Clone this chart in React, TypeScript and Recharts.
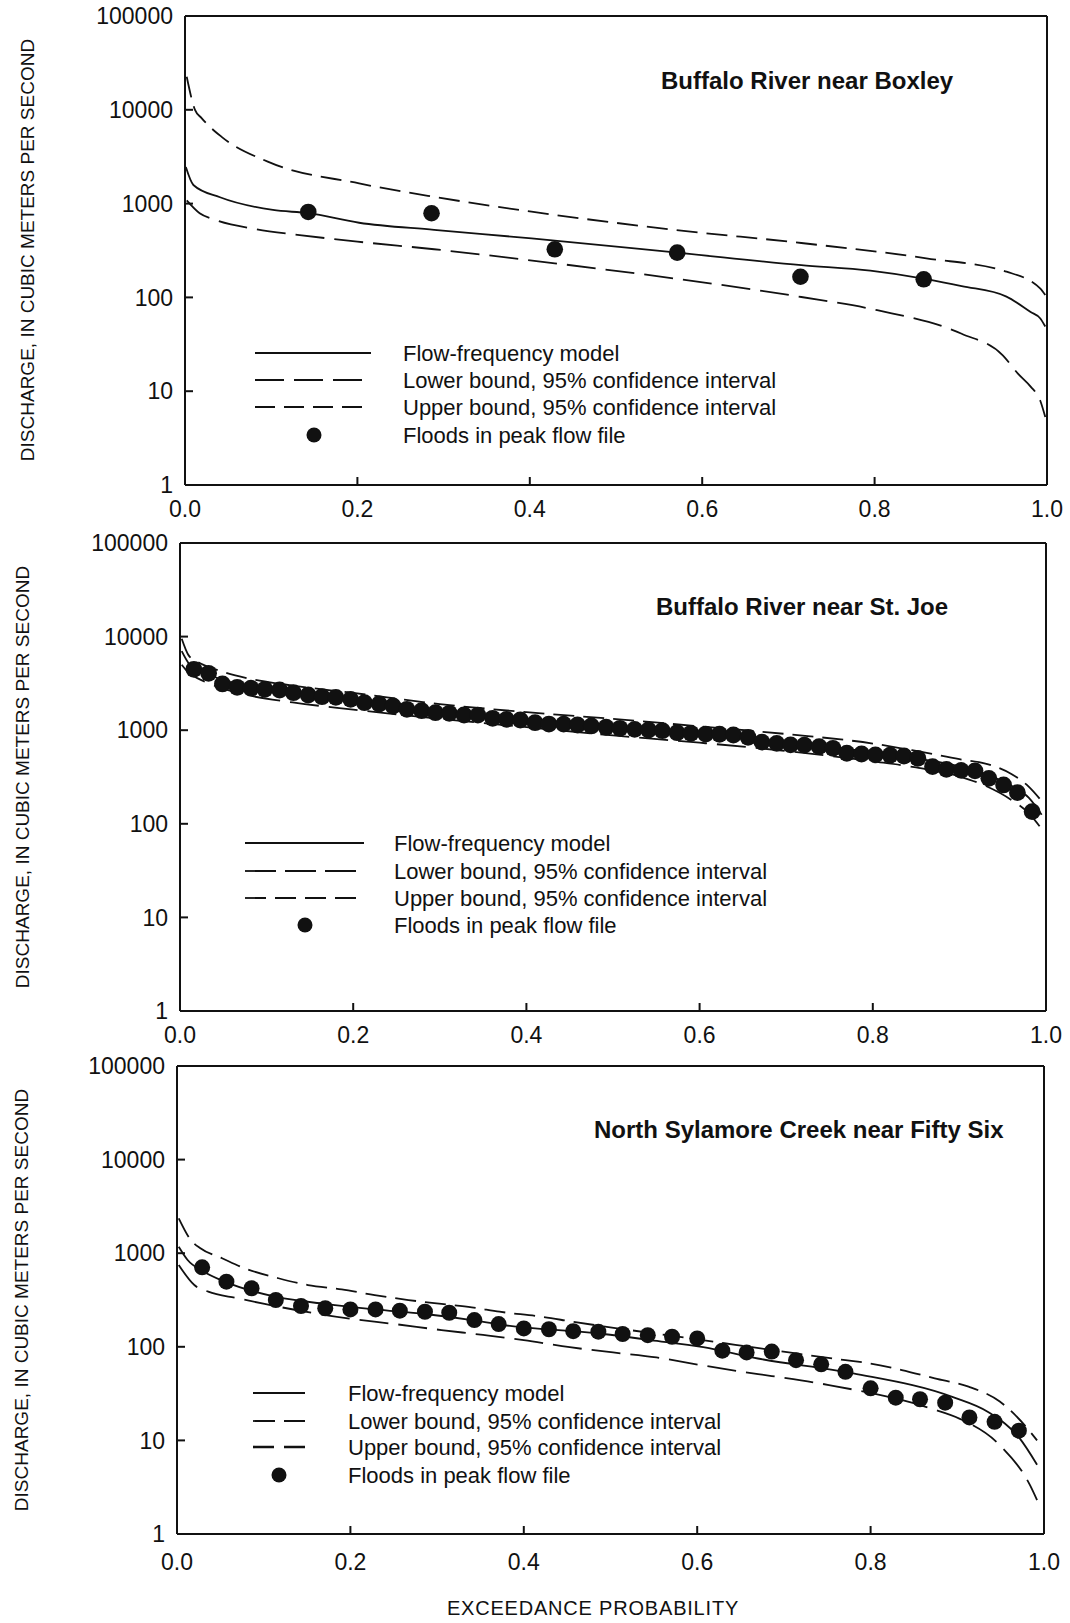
import { ComposedChart, Line, Scatter, XAxis, YAxis } from 'recharts';

const FONT = '"Liberation Sans", Arial, Helvetica, sans-serif';
const INK = '#111';

const X_TICKS = [0, 0.2, 0.4, 0.6, 0.8, 1];
const Y_TICKS = [1, 10, 100, 1000, 10000, 100000];

// Buffalo River near Boxley
const BOX_MODEL_P = [0.001, 0.0097, 0.0406, 0.102, 0.143, 0.202, 0.289, 0.402, 0.574, 0.715, 0.795, 0.86, 0.901, 0.953, 0.981, 0.992, 0.998];
const BOX_MODEL_Q = [2450, 1580, 1168, 855, 790, 625, 525, 426, 298, 221, 193, 157, 132, 102, 70, 60, 49];
const BOX_UPPER_P = [0.002, 0.0116, 0.019, 0.0425, 0.096, 0.202, 0.289, 0.402, 0.568, 0.715, 0.86, 0.953, 0.992, 0.998];
const BOX_UPPER_Q = [22500, 10000, 8200, 5150, 2800, 1640, 1180, 820, 525, 380, 261, 188, 125, 106];
const BOX_LOWER_P = [0.002, 0.017, 0.033, 0.083, 0.133, 0.2, 0.289, 0.429, 0.568, 0.715, 0.803, 0.901, 0.949, 0.966, 0.981, 0.992, 0.998];
const BOX_LOWER_Q = [1080, 788, 680, 532, 462, 393, 326, 231, 159, 101, 73, 41, 24, 15.5, 11.2, 8, 5.3];
const BOX_FLOOD_P = [0.143, 0.286, 0.429, 0.571, 0.714, 0.857];
const BOX_FLOOD_Q = [815, 789, 326, 300, 166, 156];

// Buffalo River near St. Joe
const JOE_CURVE_P = [0.002, 0.01, 0.02, 0.04, 0.08, 0.13, 0.2, 0.3, 0.4, 0.5, 0.6, 0.7, 0.8, 0.85, 0.9, 0.93, 0.96, 0.98, 0.995];
const JOE_MODEL_Q = [7000, 5200, 4500, 3700, 2900, 2450, 2050, 1620, 1320, 1080, 900, 740, 580, 500, 410, 340, 255, 190, 125];
const JOE_UPPER_Q = [9500, 6300, 5400, 4500, 3550, 3000, 2500, 1900, 1560, 1320, 1100, 910, 720, 600, 490, 440, 340, 250, 175];
const JOE_LOWER_Q = [5000, 4100, 3600, 3000, 2350, 1980, 1660, 1320, 1080, 880, 735, 600, 465, 400, 320, 255, 180, 130, 88];
const JOE_FLOOD_P = [
  0.016, 0.033, 0.049, 0.066, 0.082, 0.098, 0.115, 0.131, 0.148, 0.164,
  0.18, 0.197, 0.213, 0.23, 0.246, 0.262, 0.279, 0.295, 0.311, 0.328,
  0.344, 0.361, 0.377, 0.393, 0.41, 0.426, 0.443, 0.459, 0.475, 0.492,
  0.508, 0.525, 0.541, 0.557, 0.574, 0.59, 0.607, 0.623, 0.639, 0.656,
  0.672, 0.689, 0.705, 0.721, 0.738, 0.754, 0.77, 0.787, 0.803, 0.82,
  0.836, 0.852, 0.869, 0.885, 0.902, 0.918, 0.934, 0.951, 0.967, 0.984,
];
const JOE_FLOOD_Q = [
  4475, 4055, 3118, 2872, 2805, 2735, 2688, 2515, 2378, 2280,
  2245, 2137, 1967, 1905, 1814, 1672, 1615, 1538, 1516, 1453,
  1450, 1340, 1307, 1285, 1203, 1164, 1160, 1137, 1110, 1075,
  1048, 1022, 1005, 988, 940, 927, 910, 905, 889, 840,
  745, 724, 698, 692, 667, 641, 567, 557, 545, 540,
  530, 501, 408, 382, 372, 368, 306, 260, 215, 135,
];

// North Sylamore Creek near Fifty Six
const SYL_MODEL_P = [0.002, 0.012, 0.03, 0.055, 0.113, 0.171, 0.228, 0.286, 0.34, 0.376, 0.492, 0.546, 0.607, 0.67, 0.78, 0.895, 0.936, 0.972, 0.992];
const SYL_MODEL_Q = [1170, 850, 640, 496, 343, 287, 251, 224, 193, 171, 137, 118, 99, 75, 52, 29, 20, 10.5, 5.5];
const SYL_UPPER_P = [0.002, 0.016, 0.027, 0.052, 0.078, 0.117, 0.151, 0.19, 0.228, 0.267, 0.305, 0.34, 0.372, 0.42, 0.457, 0.6, 0.644, 0.71, 0.771, 0.797, 0.836, 0.874, 0.913, 0.949, 0.984, 0.992];
const SYL_UPPER_Q = [2360, 1383, 1128, 883, 690, 540, 457, 411, 357, 316, 287, 264, 237, 210, 185, 120, 105, 86, 72, 67, 56.5, 46, 37.5, 26, 12.4, 10];
const SYL_LOWER_P = [0.002, 0.02, 0.036, 0.07, 0.101, 0.197, 0.251, 0.305, 0.353, 0.4, 0.453, 0.503, 0.553, 0.603, 0.653, 0.686, 0.752, 0.869, 0.903, 0.949, 0.984, 0.992];
const SYL_LOWER_Q = [748, 457, 388, 330, 287, 201, 175, 151, 134, 118, 99, 87, 77, 64, 54, 48.7, 39, 22, 17, 8.9, 3.3, 2.3];
const SYL_FLOOD_P = [
  0.029, 0.057, 0.086, 0.114, 0.143, 0.171, 0.2, 0.229, 0.257, 0.286,
  0.314, 0.343, 0.371, 0.4, 0.429, 0.457, 0.486, 0.514, 0.543, 0.571,
  0.6, 0.629, 0.657, 0.686, 0.714, 0.743, 0.771, 0.8, 0.829, 0.857,
  0.886, 0.914, 0.943, 0.971,
];
const SYL_FLOOD_Q = [
  707, 496, 422, 316, 273, 258, 251, 251, 243, 237,
  231, 193, 175, 157, 154, 147, 145, 137, 133, 128,
  123, 91, 87, 89, 72, 65, 54, 36, 28.6, 27.5,
  25.3, 17.6, 15.8, 12.7,
];

const LEGEND_LABELS = [
  'Flow-frequency model',
  'Lower bound, 95% confidence interval',
  'Upper bound, 95% confidence interval',
  'Floods in peak flow file',
];

type Pt = { p: number; q: number };
const pts = (p: number[], q: number[]): Pt[] => p.map((x, i) => ({ p: x, q: q[i] }));

const LOWER_DASH = '29 10';
const UPPER_DASH = '21 9';

interface PanelProps {
  top: number;
  margin: { top: number; right: number; bottom: number; left: number };
  tickGap: number;
  model: Pt[];
  upper: Pt[];
  lower: Pt[];
  floods: Pt[];
  dotR: number;
}

function Panel({ top, margin, tickGap, model, upper, lower, floods, dotR }: PanelProps) {
  const frame = { stroke: INK, strokeWidth: 2 };
  const curve = { stroke: INK, strokeWidth: 1.8, dot: false, activeDot: false, isAnimationActive: false, type: 'monotone' as const };
  return (
    <div style={{ position: 'absolute', left: 0, top }}>
      <ComposedChart width={1070} height={540} margin={margin}>
        <XAxis
          xAxisId="b"
          dataKey="p"
          type="number"
          domain={[0, 1]}
          ticks={X_TICKS}
          allowDataOverflow
          tickFormatter={(v: number) => v.toFixed(1)}
          tickSize={-8}
          tickMargin={tickGap}
          height={50}
          axisLine={frame}
          tickLine={frame}
          tick={{ fill: INK, fontSize: 23, fontFamily: FONT }}
        />
        <XAxis
          xAxisId="t"
          orientation="top"
          mirror
          dataKey="p"
          type="number"
          domain={[0, 1]}
          ticks={X_TICKS}
          allowDataOverflow
          tick={false}
          tickSize={8}
          axisLine={frame}
          tickLine={frame}
        />
        <YAxis
          yAxisId="l"
          type="number"
          scale="log"
          domain={[1, 100000]}
          ticks={Y_TICKS}
          allowDataOverflow
          width={100}
          tickSize={-8}
          tickMargin={20}
          tickFormatter={(v: number) => String(v)}
          axisLine={frame}
          tickLine={frame}
          tick={{ fill: INK, fontSize: 23, fontFamily: FONT }}
        />
        <YAxis
          yAxisId="r"
          orientation="right"
          mirror
          type="number"
          scale="log"
          domain={[1, 100000]}
          ticks={Y_TICKS}
          allowDataOverflow
          tick={false}
          tickSize={8}
          axisLine={frame}
          tickLine={frame}
        />
        <Line xAxisId="b" yAxisId="l" data={upper} dataKey="q" {...curve} strokeDasharray={UPPER_DASH} />
        <Line xAxisId="b" yAxisId="l" data={lower} dataKey="q" {...curve} strokeDasharray={LOWER_DASH} />
        <Line xAxisId="b" yAxisId="l" data={model} dataKey="q" {...curve} />
        <Scatter
          xAxisId="b"
          yAxisId="l"
          data={floods}
          dataKey="q"
          fill={INK}
          isAnimationActive={false}
          shape={(props: any) => <circle cx={props.cx} cy={props.cy} r={dotR} fill={INK} />}
        />
      </ComposedChart>
    </div>
  );
}

interface LegendProps { x0: number; x1: number; tx: number; mx: number; rows: number[]; lowerDash: string; upperDash: string; upperWidth?: number }

function LegendBlock({ x0, x1, tx, mx, rows, lowerDash, upperDash, upperWidth = 1.8 }: LegendProps) {
  const dashes = [undefined, lowerDash, upperDash];
  const widths = [1.8, 1.8, upperWidth];
  return (
    <g>
      {LEGEND_LABELS.map((label, i) => (
        <g key={label}>
          {i < 3 ? (
            <line x1={x0} x2={x1} y1={rows[i]} y2={rows[i]} stroke={INK} strokeWidth={widths[i]} strokeDasharray={dashes[i]} />
          ) : (
            <circle cx={mx} cy={rows[i]} r={7.5} fill={INK} />
          )}
          <text x={tx} y={rows[i] + 7.9} fontSize={22} fontFamily={FONT} fill={INK}>{label}</text>
        </g>
      ))}
    </g>
  );
}

function Overlay() {
  const title = { fontSize: 24, fontWeight: 700, fontFamily: FONT, fill: INK } as const;
  const yTitle = 'DISCHARGE, IN CUBIC METERS PER SECOND';
  const yTitles = [[27, 250], [22, 777], [21, 1300]];
  return (
    <svg width={1070} height={1623} style={{ position: 'absolute', left: 0, top: 0, pointerEvents: 'none' }}>
      <text x={661} y={88.6} {...title}>Buffalo River near Boxley</text>
      <text x={656} y={614.6} {...title}>Buffalo River near St. Joe</text>
      <text x={594} y={1137.6} {...title}>North Sylamore Creek near Fifty Six</text>
      {yTitles.map(([cx, cy]) => (
        <text key={cy} x={cx} y={cy} transform={`rotate(-90 ${cx} ${cy})`} textAnchor="middle" dominantBaseline="central" fontSize={19} fontFamily={FONT} fill={INK}>
          {yTitle}
        </text>
      ))}
      <text x={593} y={1608} textAnchor="middle" dominantBaseline="central" fontSize={20} fontFamily={FONT} fill={INK} style={{ letterSpacing: '0.8px' }}>
        EXCEEDANCE PROBABILITY
      </text>
      <LegendBlock x0={255} x1={371} tx={403} mx={314} rows={[353, 380, 407, 435]} lowerDash="29 10" upperDash="20 9" />
      <LegendBlock x0={245} x1={364} tx={394} mx={305} rows={[843, 871, 898, 925]} lowerDash="31 9" upperDash="21 9" />
      <LegendBlock x0={253} x1={305} tx={348} mx={279} rows={[1393, 1421, 1447, 1475]} lowerDash="22 9" upperDash="21 10" upperWidth={2.6} />
    </svg>
  );
}

export default function App() {
  return (
    <div style={{ position: 'absolute', left: 0, top: 0, width: 1070, height: 1623, background: '#fff' }}>
      <Panel
        top={0}
        margin={{ top: 16, right: 23, bottom: 5, left: 85 }}
        tickGap={24}
        model={pts(BOX_MODEL_P, BOX_MODEL_Q)}
        upper={pts(BOX_UPPER_P, BOX_UPPER_Q)}
        lower={pts(BOX_LOWER_P, BOX_LOWER_Q)}
        floods={pts(BOX_FLOOD_P, BOX_FLOOD_Q)}
        dotR={8.3}
      />
      <Panel
        top={530}
        margin={{ top: 13, right: 24, bottom: 9, left: 80 }}
        tickGap={24}
        model={pts(JOE_CURVE_P, JOE_MODEL_Q)}
        upper={pts(JOE_CURVE_P, JOE_UPPER_Q)}
        lower={pts(JOE_CURVE_P, JOE_LOWER_Q)}
        floods={pts(JOE_FLOOD_P, JOE_FLOOD_Q)}
        dotR={8.4}
      />
      <Panel
        top={1050}
        margin={{ top: 16, right: 26, bottom: 6, left: 77 }}
        tickGap={28}
        model={pts(SYL_MODEL_P, SYL_MODEL_Q)}
        upper={pts(SYL_UPPER_P, SYL_UPPER_Q)}
        lower={pts(SYL_LOWER_P, SYL_LOWER_Q)}
        floods={pts(SYL_FLOOD_P, SYL_FLOOD_Q)}
        dotR={8}
      />
      <Overlay />
    </div>
  );
}
